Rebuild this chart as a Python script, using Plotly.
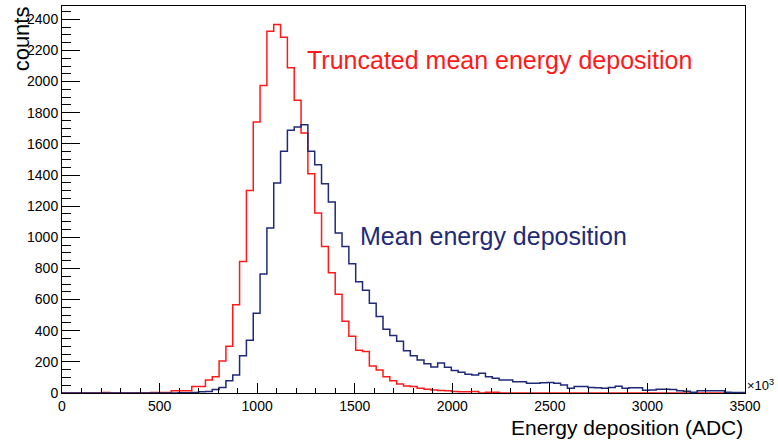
import numpy as np
import plotly.graph_objects as go

# histogram binning: 100 bins of 35 ADC (x 10^3) from 0 to 3500
bin_width = 35
x_max = 3500

# truncated mean energy deposition (red)
truncated_counts = [
    0, 0, 0, 0, 0, 0, 4, 0, 0, 0,
    0, 0, 0, 4, 4, 4, 15, 15, 15, 41,
    41, 84, 105, 206, 300, 566, 844, 1301, 1741, 1974,
    2323, 2367, 2285, 2088, 1880, 1670, 1408, 1156, 941, 772,
    634, 461, 365, 274, 266, 174, 148, 105, 79, 58,
    45, 41, 30, 24, 20, 16, 14, 10, 8, 8,
    10, 0, 5, 5, 0, 0, 0, 0, 0, 0,
    0, 0, 0, 0, 0, 0, 0, 0, 0, 0,
    0, 0, 0, 0, 0, 0, 0, 0, 0, 0,
    0, 0, 0, 0, 0, 0, 0, 0, 0, 0,
]

# mean energy deposition (navy)
mean_counts = [
    0, 0, 0, 0, 0, 0, 0, 0, 0, 0,
    0, 0, 0, 0, 0, 0, 0, 1, 1, 3,
    8, 10, 22, 35, 78, 115, 240, 338, 512, 765,
    1059, 1349, 1552, 1687, 1709, 1723, 1552, 1466, 1344, 1226,
    1027, 941, 830, 715, 660, 577, 491, 410, 370, 332,
    272, 240, 212, 188, 167, 193, 165, 145, 134, 120,
    116, 127, 105, 94, 84, 84, 73, 73, 62, 62,
    66, 68, 62, 51, 30, 41, 41, 36, 33, 30,
    36, 43, 30, 33, 33, 18, 20, 24, 24, 22,
    15, 12, 5, 15, 15, 14, 14, 5, 4, 4,
]

x_ticks = [0, 500, 1000, 1500, 2000, 2500, 3000, 3500]
y_ticks = [0, 200, 400, 600, 800, 1000, 1200, 1400, 1600, 1800, 2000, 2200, 2400]

RED = "#ff1a1a"
NAVY = "#1f2a78"
FONT = "Liberation Sans, Arial, Helvetica, sans-serif"

edges = np.arange(0, x_max + bin_width, bin_width)


def step_xy(counts):
    # left edges + final right edge, used with line_shape="hv"
    return list(edges), list(counts) + [counts[-1]]


fig = go.Figure()
for counts, col in [(truncated_counts, RED), (mean_counts, NAVY)]:
    xs, ys = step_xy(counts)
    fig.add_trace(go.Scatter(x=xs, y=ys, mode="lines", line_shape="hv",
                             line=dict(color=col, width=1.5), showlegend=False))

y_top = max(truncated_counts) * 1.05

fig.update_xaxes(
    range=[0, x_max], tickvals=x_ticks, ticks="inside", ticklen=10, tickcolor="black",
    showline=True, linecolor="black", linewidth=1, mirror=True, showgrid=False, zeroline=False,
    minor=dict(dtick=100, tick0=0, ticks="inside", ticklen=5, tickcolor="black", showgrid=False),
    tickfont=dict(family=FONT, size=14, color="black"),
)
fig.update_yaxes(
    range=[0, y_top], tickvals=y_ticks, ticks="inside", ticklen=18, tickcolor="black",
    showline=True, linecolor="black", linewidth=1, mirror=True, showgrid=False, zeroline=False,
    minor=dict(dtick=50, tick0=0, ticks="inside", ticklen=9, tickcolor="black", showgrid=False),
    tickfont=dict(family=FONT, size=14, color="black"),
)

fig.add_annotation(text="Truncated mean energy deposition", x=1245, y=2141, xref="x", yref="y",
                   xanchor="left", yanchor="middle", showarrow=False,
                   font=dict(family=FONT, size=25, color=RED))
fig.add_annotation(text="Mean energy deposition", x=1517, y=1010, xref="x", yref="y",
                   xanchor="left", yanchor="middle", showarrow=False,
                   font=dict(family=FONT, size=25, color=NAVY))
fig.add_annotation(text="Energy deposition (ADC)", x=1.0, y=-0.09, xref="paper", yref="paper",
                   xanchor="right", yanchor="middle", showarrow=False,
                   font=dict(family=FONT, size=21, color="black"))
fig.add_annotation(text="counts", x=-0.06, y=1.003, xref="paper", yref="paper",
                   xanchor="center", yanchor="top", textangle=-90, showarrow=False,
                   font=dict(family=FONT, size=22, color="black"))
fig.add_annotation(text="×10<sup>3</sup>", x=1.0, y=0.02, xref="paper", yref="paper",
                   xanchor="left", yanchor="middle", showarrow=False,
                   font=dict(family=FONT, size=13, color="black"))

fig.update_layout(
    width=778, height=446,
    margin=dict(l=62, r=33, t=6, b=53),
    plot_bgcolor="white", paper_bgcolor="white",
)

fig.write_html("out.html", config={"displayModeBar": False},
               post_script="document.body.style.margin='0';")
